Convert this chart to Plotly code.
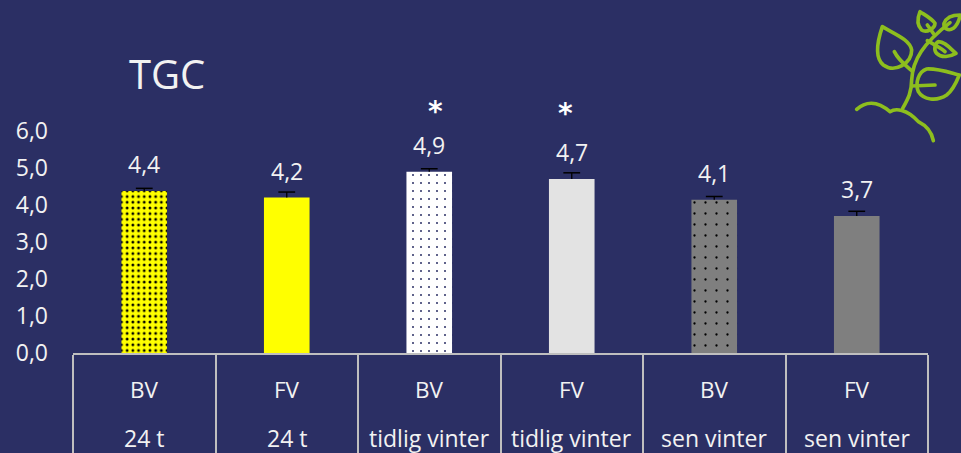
import urllib.parse
import plotly.graph_objects as go

groups = ["BV", "FV", "BV", "FV", "BV", "FV"]
periods = ["24 t", "24 t", "tidlig vinter", "tidlig vinter", "sen vinter", "sen vinter"]
values = [4.38, 4.2, 4.9, 4.7, 4.14, 3.7]
errors = [0.07, 0.15, 0.08, 0.17, 0.09, 0.13]
labels = ["4,4", "4,2", "4,9", "4,7", "4,1", "3,7"]
significant = [False, False, True, True, False, False]
star_xshift = [0, 0, 6, -6, 0, 0]
star_yshift = [0, 0, 60, 66, 0, 0]
bar_colors = ["#FFFF00", "#FFFF00", "#FFFFFF", "#E3E3E3", "#7F7F7F", "#7F7F7F"]
dot_colors = ["#000000", "#FFFF00", "#2B2F64", "#E3E3E3", "#000000", "#7F7F7F"]
dot_shapes = [".", "", ".", "", ".", ""]
dot_sizes = [5.7, 8, 8, 8, 11, 8]
dot_solidity = [0.2, 0.1, 0.05, 0.1, 0.035, 0.1]
y_ticks = [0, 1, 2, 3, 4, 5, 6]

BG = "#2B2F64"
TXT = "#F2F2F2"
FONT = "Open Sans"
GRID = "#BFBFBF"

categories = [f"{g} {p} {i}" for i, (g, p) in enumerate(zip(groups, periods))]
tops = [v + e for v, e in zip(values, errors)]

fig = go.Figure()
for i, c in enumerate(categories):
    fig.add_trace(go.Bar(
        x=[c], y=[values[i]], width=0.32,
        marker=dict(color=bar_colors[i], line=dict(width=0),
                    pattern=dict(shape=dot_shapes[i], size=dot_sizes[i], solidity=dot_solidity[i],
                                 fgcolor=dot_colors[i], fgopacity=1, bgcolor=bar_colors[i],
                                 fillmode="overlay")),
        error_y=dict(type="data", symmetric=False, array=[errors[i]], arrayminus=[0],
                     color="#000000", thickness=1.3, width=0),
    ))
fig.add_trace(go.Scatter(
    x=categories, y=tops, mode="markers",
    marker=dict(symbol="line-ew", size=12, color="#000000", line=dict(width=1.5, color="#000000")),
))


def py(pixel_y):
    return (353 - pixel_y) / 222


annotations = []
for c, v, t, s, sx, sy, g, p in zip(categories, values, labels, significant, star_xshift, star_yshift, groups, periods):
    annotations.append(dict(x=c, y=v, text=t, showarrow=False, yanchor="middle", yshift=27,
                            font=dict(family=FONT, size=23, color=TXT)))
    if s:
        annotations.append(dict(x=c, y=v, text="<b>*</b>", showarrow=False, yanchor="middle",
                                xshift=sx, yshift=sy,
                                font=dict(family="DejaVu Sans", size=28, color="#FFFFFF")))
    annotations.append(dict(x=c, y=py(389), yref="y domain", text=g, showarrow=False, yanchor="middle",
                            font=dict(family=FONT, size=22.5, color=TXT)))
    annotations.append(dict(x=c, y=py(437.5), yref="y domain", text=p, showarrow=False, yanchor="middle",
                            font=dict(family=FONT, size=23, color=TXT)))
annotations.append(dict(x=(127 - 73) / 855, y=py(73), xref="x domain", yref="y domain", text="TGC",
                        showarrow=False, xanchor="left", yanchor="middle",
                        font=dict(family=FONT, size=40, color=TXT)))

svg = """<svg xmlns='http://www.w3.org/2000/svg' viewBox='0 0 363 450'>
<g fill='none' stroke='#8DBE1E' stroke-width='11' stroke-linecap='round' stroke-linejoin='round'>
<path d='M50,328 C75,305 110,300 150,335 C165,325 200,325 235,365 C255,375 275,395 280,422'/>
<path d='M188,325 C205,295 215,275 215,240 C218,180 250,130 330,68'/>
<path d='M127,80 C110,130 105,175 130,195 C165,220 215,190 215,150 C210,120 170,105 127,80 Z'/>
<path d='M163,155 C175,180 195,195 215,212'/>
<path d='M358,225 C320,215 290,205 260,207 C235,215 225,250 235,275 C250,300 290,305 320,285 C340,270 350,245 358,225 Z'/>
<path d='M215,258 L285,255'/>
<path d='M240,35 C232,55 230,75 245,90 C260,100 285,85 285,70 C275,55 255,45 240,35 Z'/>
<path d='M262,75 L280,100'/>
<path d='M360,45 C340,45 320,50 312,70 C310,85 325,95 340,85 C352,75 358,60 360,45 Z'/>
<path d='M262,122 C285,135 305,145 315,155'/>
<path d='M348,160 C330,145 315,125 295,125 C285,130 280,150 290,160 C305,175 330,170 348,160 Z'/>
</g></svg>"""
icon = "data:image/svg+xml," + urllib.parse.quote(svg)

fig.update_layout(
    width=961, height=453,
    margin=dict(l=73, r=33, t=131, b=100, pad=0),
    paper_bgcolor=BG, plot_bgcolor=BG,
    showlegend=False, separators=",.", barmode="overlay",
    annotations=annotations,
    images=[dict(source=icon, xref="paper", yref="paper", x=(840 - 73) / 855, y=353 / 222,
                 sizex=121 / 855, sizey=150 / 222, xanchor="left", yanchor="top",
                 sizing="stretch", layer="above")],
    xaxis=dict(type="category", categoryorder="array", categoryarray=categories,
               tickson="boundaries", ticks="outside", ticklen=100, tickwidth=1.5, tickcolor=GRID,
               showline=True, linecolor=GRID, linewidth=1.5, showgrid=False, zeroline=False,
               showticklabels=False, automargin=False),
    yaxis=dict(range=[0, 6], tickmode="array", tickvals=y_ticks, tickformat=".1f",
               showgrid=False, zeroline=False, showline=False, ticks="",
               ticklabelstandoff=24,
               tickfont=dict(family=FONT, size=23, color=TXT), automargin=False),
)

fig.write_html("out.html", post_script="document.body.style.margin='0';document.body.style.background='%s';" % BG,
               config={"displayModeBar": False})
